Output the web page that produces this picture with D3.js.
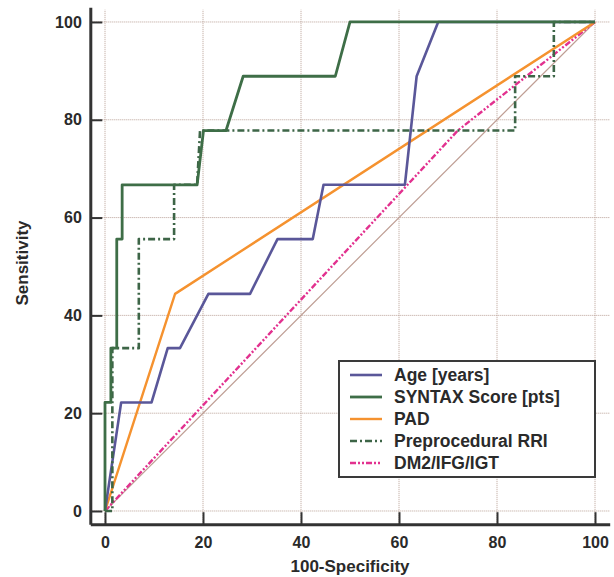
<!DOCTYPE html>
<html>
<head>
<meta charset="utf-8">
<script src="https://cdn.jsdelivr.net/npm/d3@7"></script>
<style>
  html, body { margin: 0; padding: 0; background: #fff; }
  svg { display: block; font-family: "Liberation Sans", Arial, sans-serif; }
</style>
</head>
<body>
<svg id="chart" width="614" height="577"></svg>
<script>
// ---- data (100-Specificity, Sensitivity) ----
const ageFpr    = [0, 3.3, 9.5, 12.8, 15.3, 21.1, 29.6, 35.2, 42.4, 44.6, 61.2, 63.6, 68, 100];
const ageSens   = [0, 22.2, 22.2, 33.3, 33.3, 44.4, 44.4, 55.6, 55.6, 66.7, 66.7, 88.9, 100, 100];

const syntaxFpr  = [0, 0, 1.2, 1.2, 2.4, 2.4, 3.5, 3.5, 18.8, 20.1, 24.7, 28.2, 47, 50, 100];
const syntaxSens = [0, 22.2, 22.2, 33.3, 33.3, 55.6, 55.6, 66.7, 66.7, 77.8, 77.8, 88.9, 88.9, 100, 100];

const padFpr    = [0, 14.3, 100];
const padSens   = [0, 44.4, 100];

const rriFpr    = [0, 1.5, 1.5, 6.9, 6.9, 14.1, 14.1, 18.8, 19.4, 83.7, 83.7, 91.6, 91.6, 100];
const rriSens   = [0, 0, 33.3, 33.3, 55.6, 55.6, 66.7, 66.7, 77.8, 77.8, 88.9, 88.9, 100, 100];

const dmFpr     = [0, 72, 100];
const dmSens    = [0, 77.8, 100];

const refFpr    = [0, 100];
const refSens   = [0, 100];

const majorTicks = [0, 20, 40, 60, 80, 100];
const minorTicks = [0, 5, 10, 15, 20, 25, 30, 35, 40, 45, 50, 55, 60, 65, 70, 75, 80, 85, 90, 95, 100];

const seriesNames = ["Age [years]", "SYNTAX Score [pts]", "PAD", "Preprocedural RRI", "DM2/IFG/IGT"];

// ---- styles ----
const styles = {
  "Age [years]":        { color: "#5a5799", width: 2.6, dash: null },
  "SYNTAX Score [pts]": { color: "#3e6e47", width: 2.8, dash: null },
  "PAD":                { color: "#f5922f", width: 2.4, dash: null },
  "Preprocedural RRI":  { color: "#3d6547", width: 2.6, dash: "7,3,2,3" },
  "DM2/IFG/IGT":        { color: "#e2318f", width: 2.4, dash: "6,2,2,2,2,2" }
};

const svg = d3.select("#chart");

const x = d3.scaleLinear().domain([-3, 103]).range([90.3, 609.7]);
const y = d3.scaleLinear().domain([-2.7, 103]).range([524.2, 7.3]);

// gridlines
const grid = svg.append("g");
grid.selectAll("line.v").data(majorTicks).join("line")
  .attr("x1", d => x(d)).attr("x2", d => x(d))
  .attr("y1", y(-2.7)).attr("y2", y(102.5))
  .attr("stroke", "#b9a096").attr("stroke-width", 1).attr("stroke-dasharray", "1,1");
grid.selectAll("line.h").data(majorTicks).join("line")
  .attr("y1", d => y(d)).attr("y2", d => y(d))
  .attr("x1", x(-3)).attr("x2", x(103))
  .attr("stroke", "#b9a096").attr("stroke-width", 1).attr("stroke-dasharray", "1,1");

// line generator
const line = d3.line().x(d => x(d[0])).y(d => y(d[1]));
const zipPts = (a, b) => a.map((v, i) => [v, b[i]]);

// reference diagonal
svg.append("path").datum(zipPts(refFpr, refSens))
  .attr("d", line).attr("fill", "none")
  .attr("stroke", "#bf9e94").attr("stroke-width", 1.2);

const seriesData = {
  "Age [years]": zipPts(ageFpr, ageSens),
  "SYNTAX Score [pts]": zipPts(syntaxFpr, syntaxSens),
  "PAD": zipPts(padFpr, padSens),
  "Preprocedural RRI": zipPts(rriFpr, rriSens),
  "DM2/IFG/IGT": zipPts(dmFpr, dmSens)
};

const drawOrder = ["DM2/IFG/IGT", "PAD", "Age [years]", "Preprocedural RRI", "SYNTAX Score [pts]"];
drawOrder.forEach(name => {
  const s = styles[name];
  svg.append("path").datum(seriesData[name])
    .attr("d", line).attr("fill", "none")
    .attr("stroke", s.color).attr("stroke-width", s.width)
    .attr("stroke-linejoin", "round")
    .attr("stroke-dasharray", s.dash);
});

// axes
const axisColor = "#333";
const gx = svg.append("g").attr("transform", `translate(0,${y(-2.7)})`);
gx.call(d3.axisBottom(x).tickValues(minorTicks).tickSize(-6).tickSizeOuter(0).tickFormat(""));
gx.call(d3.axisBottom(x).tickValues(majorTicks).tickSize(-12).tickSizeOuter(0).tickPadding(12.5));
gx.selectAll(".domain").attr("stroke", axisColor).attr("stroke-width", 3);
gx.selectAll(".tick line").attr("stroke", axisColor).attr("stroke-width", 2);
gx.selectAll(".tick text").attr("font-size", 16).attr("font-weight", "bold").attr("fill", "#2a2a2a")
  .attr("font-family", "Liberation Sans, Arial, sans-serif");

const gy = svg.append("g").attr("transform", `translate(${x(-3)},0)`);
gy.call(d3.axisLeft(y).tickValues(minorTicks).tickSize(-6).tickSizeOuter(0).tickFormat(""));
gy.call(d3.axisLeft(y).tickValues(majorTicks).tickSize(-12).tickSizeOuter(0).tickPadding(8.5));
gy.selectAll(".domain").attr("stroke", axisColor).attr("stroke-width", 3);
gy.selectAll(".tick line").attr("stroke", axisColor).attr("stroke-width", 2);
gy.selectAll(".tick text").attr("font-size", 16).attr("font-weight", "bold").attr("fill", "#2a2a2a")
  .attr("font-family", "Liberation Sans, Arial, sans-serif");

// axis titles
svg.append("text").attr("x", 350).attr("y", 572).attr("text-anchor", "middle")
  .attr("font-size", 17).attr("font-weight", "bold").attr("fill", "#2a2a2a")
  .text("100-Specificity");
svg.append("text").attr("transform", "translate(28,263) rotate(-90)").attr("text-anchor", "middle")
  .attr("font-size", 17).attr("font-weight", "bold").attr("fill", "#2a2a2a")
  .text("Sensitivity");

// legend
const lg = svg.append("g");
lg.append("rect").attr("x", 339).attr("y", 361).attr("width", 256).attr("height", 116)
  .attr("fill", "#fff").attr("stroke", "#3a3a3a").attr("stroke-width", 2);
const rowY = d3.scalePoint().domain(seriesNames).range([375, 463]);
seriesNames.forEach(name => {
  const s = styles[name];
  lg.append("line").attr("x1", 350).attr("x2", 382)
    .attr("y1", rowY(name)).attr("y2", rowY(name))
    .attr("stroke", s.color).attr("stroke-width", s.width)
    .attr("stroke-dasharray", s.dash);
  lg.append("text").attr("x", 394).attr("y", rowY(name)).attr("dy", "0.36em")
    .attr("font-size", 17.5).attr("font-weight", "bold").attr("fill", "#2a2a2a")
    .text(name);
});
</script>
</body>
</html>
